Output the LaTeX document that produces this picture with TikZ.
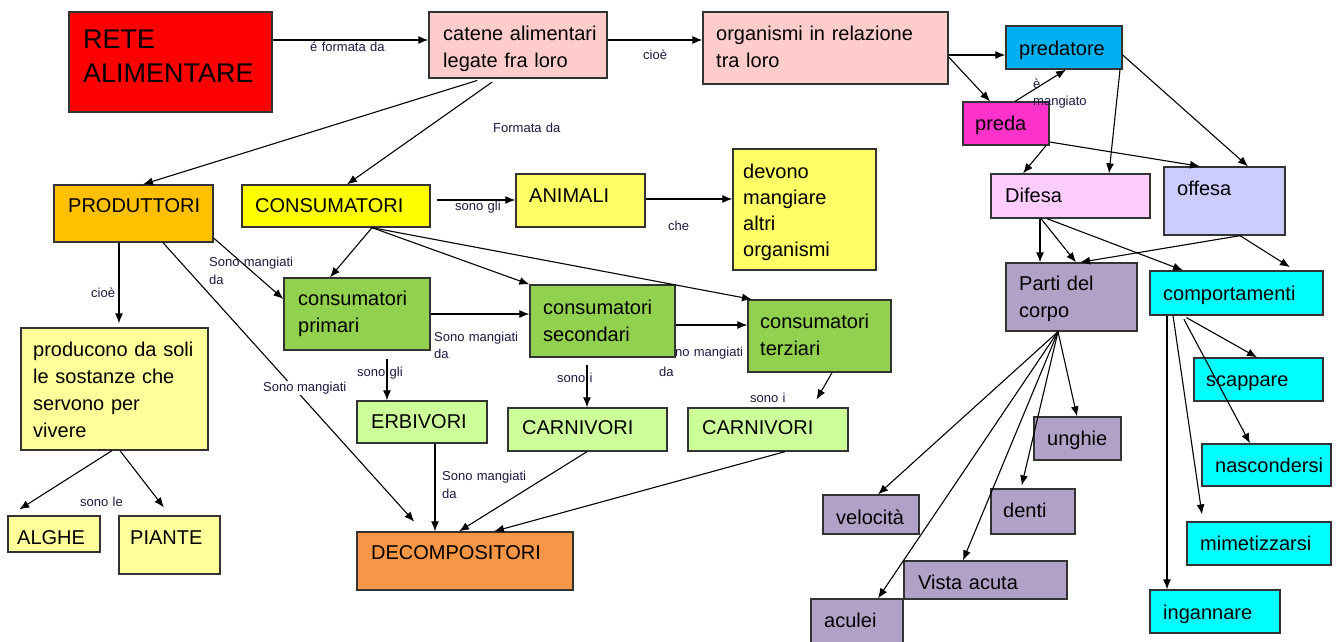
\documentclass[tikz,border=0pt]{standalone}
\usepackage{fontspec}
\setmainfont{Liberation Sans}
\usetikzlibrary{arrows.meta,fit}
\definecolor{bdr}{HTML}{333333}
\definecolor{lblc}{HTML}{1A1A40}
\definecolor{cred}{HTML}{FF0000}
\definecolor{cpink}{HTML}{FFCCCC}
\definecolor{cblue}{HTML}{00B0F0}
\definecolor{cmag}{HTML}{FF33CC}
\definecolor{clpink}{HTML}{FFCCFF}
\definecolor{clav}{HTML}{CCCCFF}
\definecolor{corange}{HTML}{FFC000}
\definecolor{cyel}{HTML}{FFFF00}
\definecolor{cyel2}{HTML}{FFFF66}
\definecolor{cyel3}{HTML}{FFFF99}
\definecolor{cgreen}{HTML}{92D050}
\definecolor{clgreen}{HTML}{CCFF99}
\definecolor{cdec}{HTML}{F79646}
\definecolor{cpurp}{HTML}{B2A1C7}
\definecolor{ccyan}{HTML}{00FFFF}
\newcommand\bx[9]{%
  \node[boxst, fill=#6, fit={(#2,#3)(#4,#5)}] (#1) {};
  \node[txt] (#1t) at (#7,#8) {#9};}
\begin{document}
\begin{tikzpicture}[x=1pt,y=-1pt,
  boxst/.style={draw=bdr, line width=1.3pt, inner sep=0pt},
  txt/.style={anchor=base west, inner sep=0pt, align=left, text width=330pt,
    font=\fontsize{20}{27}\selectfont},
  lbl/.style={anchor=base west, inner sep=0pt, align=left, text width=120pt,
    font=\fontsize{13}{18}\selectfont, text=lblc},
  arr/.style={draw=black, line width=1.1pt, -{Latex[length=10pt,width=8pt]}},
]
\useasboundingbox (0,0) rectangle (1337,641);
\fill[white] (0,0) rectangle (1337,641);

% label hidden partly behind consumatori secondari
\node[lbl, font=\fontsize{13}{20}\selectfont] (l26) at (659,356) {Sono mangiati\\da};

% boxes
\node[boxst, fill=cred, fit={(69,12)(272,112)}] (rete) {};
\node[txt, font=\fontsize{27}{34}\selectfont] (retet) at (83,48) {RETE\\ALIMENTARE};
\bx{cat}{429}{12}{607}{78}{cpink}{443}{40}{catene alimentari\\legate fra loro}
\bx{org}{703}{12}{948}{84}{cpink}{716}{40}{organismi in relazione\\tra loro}
\bx{pred}{1006}{26}{1122}{69}{cblue}{1019}{55}{predatore}
\bx{preda}{963}{102}{1049}{145}{cmag}{975}{130}{preda}
\bx{dif}{991}{174}{1150}{218}{clpink}{1005}{202}{Difesa}
\bx{off}{1164}{167}{1285}{235}{clav}{1177}{195}{offesa}
\bx{prod}{54}{185}{213}{242}{corange}{68}{212}{PRODUTTORI}
\bx{cons}{242}{185}{430}{227}{cyel}{255}{212}{CONSUMATORI}
\bx{anim}{516}{174}{645}{227}{cyel2}{529}{202}{ANIMALI}
\node[boxst, fill=cyel2, fit={(733,149)(876,270)}] (dev) {};
\node[txt, font=\fontsize{20}{26}\selectfont] (devt) at (743,178) {devono\\mangiare\\altri\\organismi};
\bx{cp}{284}{278}{430}{350}{cgreen}{298}{305}{consumatori\\primari}
\bx{cs}{530}{285}{675}{357}{cgreen}{543}{314}{consumatori\\secondari}
\bx{ct}{748}{300}{891}{372}{cgreen}{760}{328}{consumatori\\terziari}
\bx{proc}{21}{328}{208}{450}{cyel3}{33}{356}{producono da soli\\le sostanze che\\servono per\\vivere}
\bx{erb}{357}{401}{487}{443}{clgreen}{371}{428}{ERBIVORI}
\bx{car1}{508}{408}{667}{451}{clgreen}{522}{434}{CARNIVORI}
\bx{car2}{688}{408}{848}{451}{clgreen}{702}{434}{CARNIVORI}
\bx{alg}{8}{516}{100}{552}{cyel3}{17}{544}{ALGHE}
\bx{pia}{119}{516}{220}{574}{cyel3}{130}{544}{PIANTE}
\bx{dec}{357}{532}{573}{590}{cdec}{371}{559}{DECOMPOSITORI}
\bx{parti}{1006}{263}{1137}{331}{cpurp}{1019}{290}{Parti del\\corpo}
\bx{comp}{1150}{271}{1323}{315}{ccyan}{1163}{300}{comportamenti}
\bx{scap}{1194}{358}{1323}{401}{ccyan}{1206}{386}{scappare}
\bx{nasc}{1202}{444}{1331}{486}{ccyan}{1215}{472}{nascondersi}
\bx{mim}{1187}{522}{1331}{565}{ccyan}{1200}{550}{mimetizzarsi}
\bx{ing}{1150}{590}{1280}{633}{ccyan}{1163}{619}{ingannare}
\bx{ung}{1034}{417}{1121}{460}{cpurp}{1047}{445}{unghie}
\bx{den}{991}{489}{1075}{534}{cpurp}{1003}{517}{denti}
\bx{vel}{823}{495}{919}{534}{cpurp}{836}{524}{velocità}
\bx{vis}{904}{561}{1067}{599}{cpurp}{918}{589}{Vista acuta}
\bx{acu}{811}{599}{903}{660}{cpurp}{824}{627}{aculei}

% connectors
\draw[arr] (rete.east|-0,40) -- (cat.west|-0,40);
\draw[arr] (cat.east|-0,40) -- (org.west|-0,40);
\draw[arr] (org.east|-0,55) -- (pred.west|-0,55);
\draw[arr] (org.east|-0,57) -- (990,0|-preda.north);
\draw[arr] (1015,0|-preda.north) -- (1066,0|-pred.south);
\draw[arr] (1120,0|-pred.south) -- (1109,0|-dif.north);
\draw[arr] (pred.east|-0,55) -- (1248,0|-off.north);
\draw[arr] (preda.east|-0,142) -- (1200,0|-off.north);
\draw[arr] (1046,0|-preda.south) -- (1023,0|-dif.north);
\draw[arr] (1040,0|-dif.south) -- (1040,0|-parti.north);
\draw[arr] (1041,0|-dif.south) -- (1076,0|-parti.north);
\draw[arr] (1047,0|-dif.south) -- (1183,0|-comp.north);
\draw[arr] (1240,0|-off.south) -- (1080,0|-parti.north);
\draw[arr, shorten >=6pt] (1240,0|-off.south) -- (1295,0|-comp.north);
\draw[arr] (1058,0|-parti.south) -- (1077,0|-ung.north);
\draw[arr, shorten >=3pt] (1058,0|-parti.south) -- (1021,0|-den.north);
\draw[arr] (1058,0|-parti.south) -- (878,0|-vel.north);
\draw[arr] (1058,0|-parti.south) -- (878,0|-acu.north);
\draw[arr] (1058,0|-parti.south) -- (963,0|-vis.north);
\draw[arr] (1167,0|-comp.south) -- (1167,0|-ing.north);
\draw[arr, shorten >=7pt] (1173,0|-comp.south) -- (1203,0|-mim.north);
\draw[arr, shorten <=4pt] (1183,0|-comp.south) -- (1257,0|-scap.north);
\draw[arr, shorten <=4pt] (1182,0|-comp.south) -- (1250,0|-nasc.north);
\draw[arr, shorten <=6pt] (483,0|-cat.south) -- (143,0|-prod.north);
\draw[arr, shorten <=6pt] (497,0|-cat.south) -- (347,0|-cons.north);
\draw[arr, shorten <=6pt] (cons.east|-0,200) -- (anim.west|-0,200);
\draw[arr] (anim.east|-0,199) -- (dev.west|-0,199);
\draw[arr] (372,0|-cons.south) -- (330,0|-cp.north);
\draw[arr] (372,0|-cons.south) -- (cs.north west);
\draw[arr] (372,0|-cons.south) -- (752,0|-ct.north);
\draw[arr] (prod.east|-0,238) -- (cp.west|-0,299);
\draw[arr, shorten >=13pt] (163,0|-prod.south) -- (423,0|-dec.north);
\draw[arr] (cp.east|-0,314) -- (cs.west|-0,314);
\draw[arr] (cs.east|-0,325) -- (ct.west|-0,325);
\draw[arr, shorten <=8pt] (387,0|-cp.south) -- (387,0|-erb.north);
\draw[arr, shorten <=7pt] (587,0|-cs.south) -- (587,0|-car1.north);
\draw[arr, shorten >=9pt] (832,0|-ct.south) -- (812,0|-car2.north);
\draw[arr] (435,0|-erb.south) -- (435,0|-dec.north);
\draw[arr] (587,0|-car1.south) -- (459,0|-dec.north);
\draw[arr] (785,0|-car2.south) -- (494,0|-dec.north);
\draw[arr, shorten >=4pt] (119,0|-prod.south) -- (119,0|-proc.north);
\draw[arr, shorten >=11pt] (112,0|-proc.south) -- (10,0|-alg.north);
\draw[arr, shorten >=10pt] (120,0|-proc.south) -- (170,0|-pia.north);

% labels
\node[lbl] (l1) at (310,51) {é formata da};
\node[lbl] (l2) at (643,59) {cioè};
\node[lbl, font=\fontsize{13}{17}\selectfont] (l5) at (1033,88) {è\\mangiato};
\node[lbl] (l17) at (493,132) {Formata da};
\node[lbl] (l18) at (455,210) {sono gli};
\node[lbl] (l19) at (668,230) {che};
\node[lbl] (l23) at (209,266) {Sono mangiati\\da};
\node[lbl, text width=, fill=white, inner sep=1pt] (l24) at (262,391) {Sono mangiati};
\node[lbl, font=\fontsize{13}{17}\selectfont] (l25) at (434,341) {Sono mangiati\\da};
\node[lbl] (l27) at (357,376) {sono gli};
\node[lbl] (l28) at (557,382) {sono i};
\node[lbl] (l29) at (750,402) {sono i};
\node[lbl] (l30) at (442,480) {Sono mangiati\\da};
\node[lbl] (l33) at (91,297) {cioè};
\node[lbl] (l35) at (80,506) {sono le};
\end{tikzpicture}
\end{document}
